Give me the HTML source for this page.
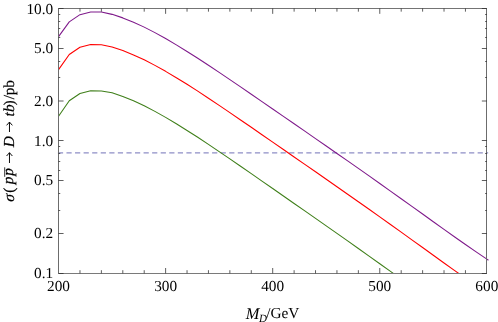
<!DOCTYPE html>
<html><head><meta charset="utf-8"><title>plot</title>
<style>html,body{margin:0;padding:0;background:#fff}body{width:498px;height:322px;overflow:hidden;font-family:"Liberation Serif",serif}</style></head>
<body>
<svg width="498" height="322" viewBox="0 0 498 322" style="display:block;will-change:transform">
<rect width="498" height="322" fill="#fff"/>
<defs><clipPath id="c"><rect x="58.55" y="8.45" width="430.50" height="265.25"/></clipPath></defs>
<line x1="57.9" y1="152.90" x2="488.15" y2="152.90" stroke="#8e8ec6" stroke-width="1.15" stroke-dasharray="5.2 3.366"/>
<g clip-path="url(#c)" fill="none" stroke-linejoin="round">
<polyline points="58.55,116.20 69.26,100.70 79.97,93.50 90.67,90.80 101.38,90.95 112.09,92.84 122.80,96.44 133.50,100.80 144.21,105.82 154.92,111.38 165.62,117.38 176.33,123.75 187.04,130.42 197.75,137.31 208.45,144.38 219.16,151.58 229.87,158.88 240.58,166.25 251.29,173.65 261.99,181.09 272.70,188.53 283.41,195.99 294.12,203.45 304.82,210.92 315.53,218.40 326.24,225.89 336.95,233.39 347.65,240.92 358.36,248.48 369.07,256.07 379.78,263.70 390.48,271.37 401.19,279.07 411.90,286.80 422.61,294.55 433.31,302.30 444.02,310.03 454.73,317.71 465.44,325.31 476.14,332.78 486.85,340.08" stroke="#3f7f1a" stroke-width="1.08"/>
<polyline points="58.55,69.65 69.26,54.45 79.97,47.25 90.67,44.55 101.38,44.70 112.09,47.01 122.80,50.56 133.50,54.89 144.21,59.86 154.92,65.38 165.62,71.35 176.33,77.68 187.04,84.31 197.75,91.16 208.45,98.19 219.16,105.35 229.87,112.61 240.58,119.94 251.29,127.30 261.99,134.70 272.70,142.11 283.41,149.52 294.12,156.95 304.82,164.37 315.53,171.81 326.24,179.26 336.95,186.73 347.65,194.22 358.36,201.74 369.07,209.29 379.78,216.88 390.48,224.51 401.19,232.17 411.90,239.86 422.61,247.57 433.31,255.28 444.02,262.97 454.73,270.61 465.44,278.17 476.14,285.60 486.85,292.86" stroke="#ff0000" stroke-width="1.1"/>
<polyline points="58.55,36.60 69.26,21.85 79.97,14.65 90.67,11.95 101.38,12.05 112.09,14.35 122.80,17.88 133.50,22.17 144.21,27.12 154.92,32.61 165.62,38.55 176.33,44.85 187.04,51.44 197.75,58.27 208.45,65.27 219.16,72.40 229.87,79.63 240.58,86.92 251.29,94.26 261.99,101.62 272.70,109.00 283.41,116.39 294.12,123.78 304.82,131.18 315.53,138.59 326.24,146.01 336.95,153.44 347.65,160.90 358.36,168.39 369.07,175.92 379.78,183.48 390.48,191.07 401.19,198.71 411.90,206.37 422.61,214.05 433.31,221.73 444.02,229.39 454.73,237.00 465.44,244.53 476.14,251.93 486.85,259.15 488.45,260.21" stroke="#7f1a8b" stroke-width="1.08"/>
</g>
<g stroke-linecap="butt">
<path d="M58.5 8V274M486.5 8V274" stroke="#6c6c6c" stroke-width="1" fill="none"/>
<path d="M58 8.5H487" stroke="#747474" stroke-width="1" fill="none"/>
<path d="M58 273.5H487" stroke="#7a7a7a" stroke-width="1" fill="none"/>
<path d="M79.97 8.45v3.20M79.97 273.40v-3.20M101.38 8.45v3.20M101.38 273.40v-3.20M122.80 8.45v3.20M122.80 273.40v-3.20M144.21 8.45v3.20M144.21 273.40v-3.20M165.62 8.45v5.40M165.62 273.40v-5.40M187.04 8.45v3.20M187.04 273.40v-3.20M208.45 8.45v3.20M208.45 273.40v-3.20M229.87 8.45v3.20M229.87 273.40v-3.20M251.29 8.45v3.20M251.29 273.40v-3.20M272.70 8.45v5.40M272.70 273.40v-5.40M294.12 8.45v3.20M294.12 273.40v-3.20M315.53 8.45v3.20M315.53 273.40v-3.20M336.95 8.45v3.20M336.95 273.40v-3.20M358.36 8.45v3.20M358.36 273.40v-3.20M379.78 8.45v5.40M379.78 273.40v-5.40M401.19 8.45v3.20M401.19 273.40v-3.20M422.61 8.45v3.20M422.61 273.40v-3.20M444.02 8.45v3.20M444.02 273.40v-3.20M465.44 8.45v3.20M465.44 273.40v-3.20M58.55 273.50h5.00M486.85 273.50h-5.00M58.55 233.50h5.00M486.85 233.50h-5.00M58.55 210.50h1.70M486.85 210.50h-1.70M58.55 193.50h1.70M486.85 193.50h-1.70M58.55 180.50h5.00M486.85 180.50h-5.00M58.55 170.50h1.70M486.85 170.50h-1.70M58.55 161.50h1.70M486.85 161.50h-1.70M58.55 153.50h1.70M486.85 153.50h-1.70M58.55 146.50h1.70M486.85 146.50h-1.70M58.55 140.50h5.00M486.85 140.50h-5.00M58.55 101.00h5.00M486.85 101.00h-5.00M58.55 77.50h1.70M486.85 77.50h-1.70M58.55 61.50h1.70M486.85 61.50h-1.70M58.55 48.50h5.00M486.85 48.50h-5.00M58.55 37.50h1.70M486.85 37.50h-1.70M58.55 28.50h1.70M486.85 28.50h-1.70M58.55 21.50h1.70M486.85 21.50h-1.70M58.55 14.50h1.70M486.85 14.50h-1.70M58.55 8.50h5.00M486.85 8.50h-5.00" stroke="#2a2a2a" stroke-width="0.75" fill="none"/>
</g>
<g font-family="'Liberation Serif', serif" font-size="15.3px" fill="#000" text-rendering="geometricPrecision">
<text x="53.2" y="13.80" text-anchor="end">10.0</text>
<text x="53.2" y="52.63" text-anchor="end">5.0</text>
<text x="53.2" y="105.95" text-anchor="end">2.0</text>
<text x="53.2" y="145.62" text-anchor="end">1.0</text>
<text x="53.2" y="185.15" text-anchor="end">0.5</text>
<text x="53.2" y="237.87" text-anchor="end">0.2</text>
<text x="53.2" y="277.55" text-anchor="end">0.1</text>
<text x="58.55" y="291.35" text-anchor="middle">200</text>
<text x="165.62" y="291.35" text-anchor="middle">300</text>
<text x="272.70" y="291.35" text-anchor="middle">400</text>
<text x="379.78" y="291.35" text-anchor="middle">500</text>
<text x="486.85" y="291.35" text-anchor="middle">600</text>
<text><tspan x="245.7" y="319.2" font-style="italic" font-size="16.4px">M</tspan><tspan x="259.1" y="321.6" font-style="italic" font-size="11px">D</tspan><tspan x="266.2" y="318.0">/GeV</tspan></text>
<text transform="translate(13.80 201.30) rotate(-90)" stroke="#000" stroke-width="0.2"><tspan x="8.60" y="0.00">(</tspan><tspan x="17.00" y="-0.50" font-style="italic">p</tspan><tspan x="25.60" y="-0.50" font-style="italic">p</tspan><tspan x="54.00" y="0.00" font-style="italic">D</tspan><tspan x="84.90" y="0.00" font-style="italic">t</tspan><tspan x="89.30" y="0.00" font-style="italic">b</tspan><tspan x="95.80" y="0.00">)</tspan><tspan x="102.10" y="0.00">/</tspan><tspan x="106.10" y="0.00">p</tspan><tspan x="113.50" y="0.00">b</tspan></text>
<text transform="translate(13.80 201.30) rotate(-90) skewX(-5)" font-style="italic" font-size="15.5px" x="-0.7" y="0" stroke="#000" stroke-width="0.2">σ</text>
<path transform="translate(13.80 201.30) rotate(-90)" d="M38.30 -4.33H48.60M45.30 -7.23L48.60 -4.33L45.30 -1.43M69.30 -4.33H79.25M75.95 -7.23L79.25 -4.33L75.95 -1.43" fill="none" stroke="#000" stroke-width="0.95" stroke-linejoin="miter"/>
<line x1="4.7" y1="167.3" x2="4.7" y2="176.8" stroke="#000" stroke-width="0.8"/>
</g>
</svg>
</body></html>
